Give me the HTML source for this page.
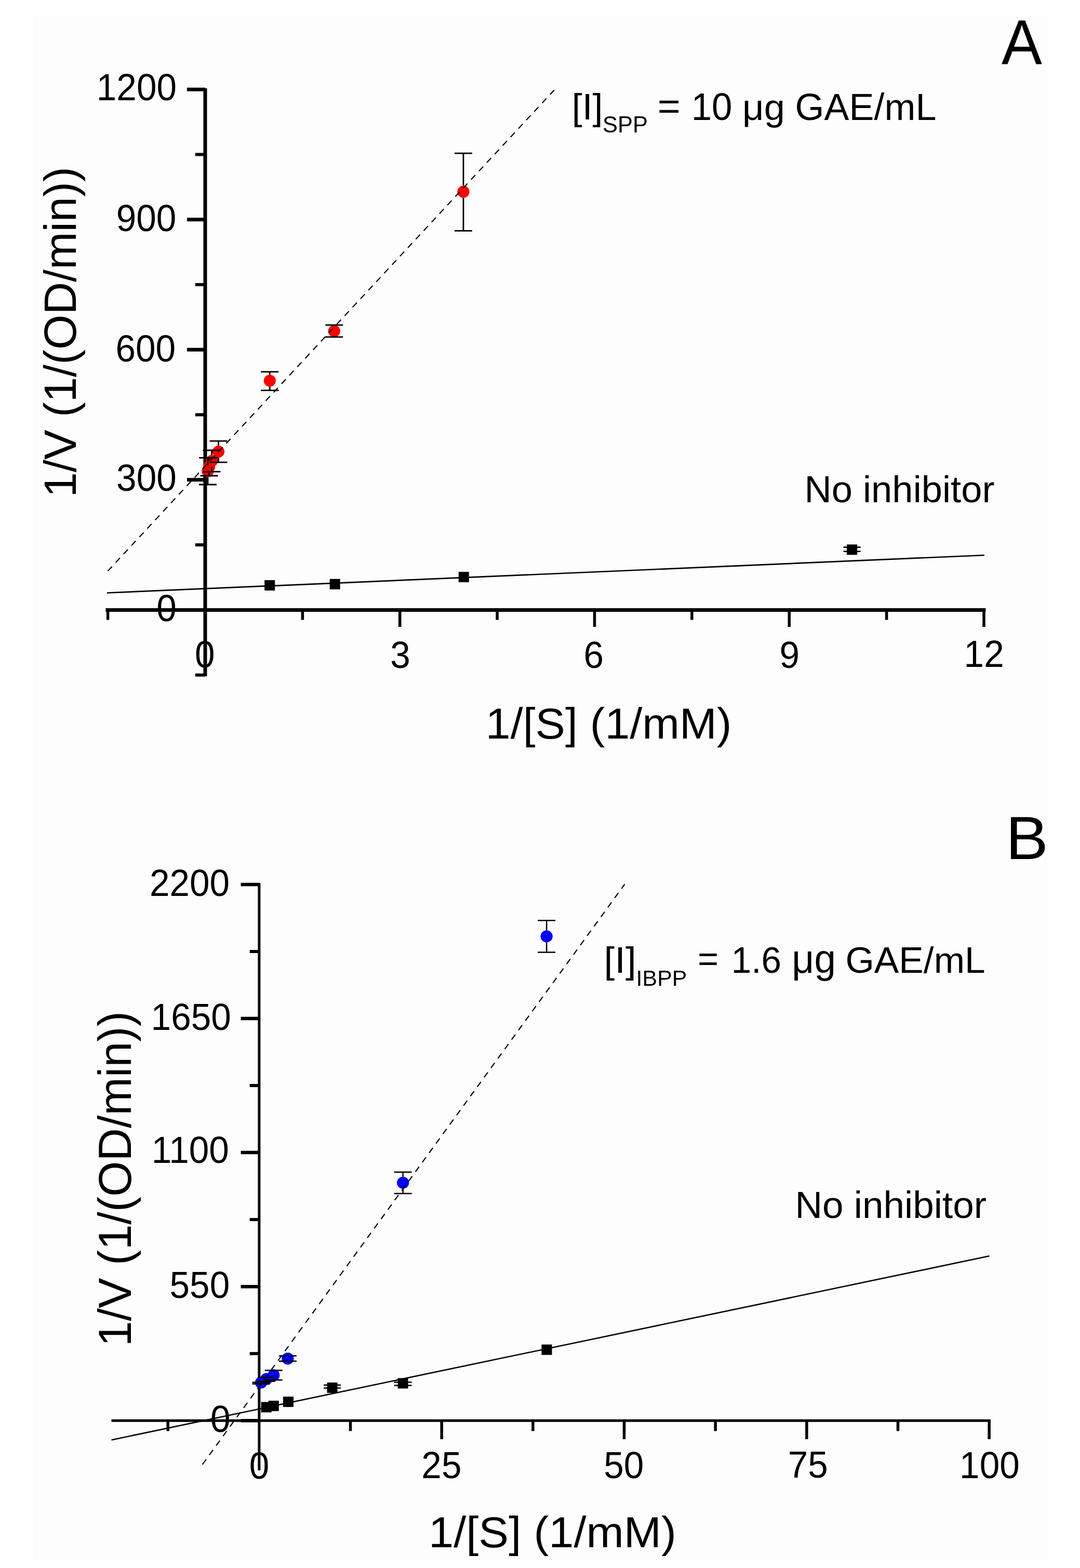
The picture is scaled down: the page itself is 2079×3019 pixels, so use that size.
<!DOCTYPE html>
<html><head><meta charset="utf-8"><title>Lineweaver-Burk plots (A: SPP, B: IBPP)</title>
<style>
html,body{margin:0;padding:0;background:#fff;}
body{width:2079px;height:3019px;overflow:hidden;position:relative;}
.bg{position:absolute;left:67px;top:29px;width:1949px;height:2975px;background:#fefdfd;}
svg{position:absolute;left:0;top:0;}
text{font-family:'Liberation Sans', Arial, Helvetica, sans-serif;fill:#000;}
</style></head>
<body>
<div class="bg"></div>
<svg width="2079" height="3019" viewBox="0 0 2079 3019">
<g stroke="#000" fill="none">
<line x1="395" y1="170" x2="395" y2="1302" stroke-width="7"/>
<line x1="203.5" y1="1174.4" x2="1897.5" y2="1174.4" stroke-width="7"/>
<line x1="360" y1="1174.4" x2="395" y2="1174.4" stroke-width="7"/>
<line x1="360" y1="923.84" x2="395" y2="923.84" stroke-width="7"/>
<line x1="360" y1="673.28" x2="395" y2="673.28" stroke-width="7"/>
<line x1="360" y1="422.72" x2="395" y2="422.72" stroke-width="7"/>
<line x1="360" y1="172.16" x2="395" y2="172.16" stroke-width="7"/>
<line x1="376" y1="1299.68" x2="395" y2="1299.68" stroke-width="6"/>
<line x1="376" y1="1049.12" x2="395" y2="1049.12" stroke-width="6"/>
<line x1="376" y1="798.56" x2="395" y2="798.56" stroke-width="6"/>
<line x1="376" y1="548" x2="395" y2="548" stroke-width="6"/>
<line x1="376" y1="297.44" x2="395" y2="297.44" stroke-width="6"/>
<line x1="769.76" y1="1174.4" x2="769.76" y2="1207" stroke-width="5.5"/>
<line x1="1144.52" y1="1174.4" x2="1144.52" y2="1207" stroke-width="5.5"/>
<line x1="1519.28" y1="1174.4" x2="1519.28" y2="1207" stroke-width="5.5"/>
<line x1="1894.04" y1="1174.4" x2="1894.04" y2="1207" stroke-width="5.5"/>
<line x1="207.62" y1="1174.4" x2="207.62" y2="1193.5" stroke-width="5.5"/>
<line x1="582.38" y1="1174.4" x2="582.38" y2="1193.5" stroke-width="5.5"/>
<line x1="957.14" y1="1174.4" x2="957.14" y2="1193.5" stroke-width="5.5"/>
<line x1="1331.9" y1="1174.4" x2="1331.9" y2="1193.5" stroke-width="5.5"/>
<line x1="1706.66" y1="1174.4" x2="1706.66" y2="1193.5" stroke-width="5.5"/>
<line x1="206" y1="1141.5" x2="1895" y2="1069" stroke-width="2.7"/>
</g>
<circle cx="519.3" cy="733" r="11.6" fill="#ff0000"/>
<circle cx="643.3" cy="637.5" r="11.6" fill="#ff0000"/>
<circle cx="892" cy="369.2" r="11.6" fill="#ff0000"/>
<circle cx="420.5" cy="869.6" r="11.6" fill="#ff0000"/>
<circle cx="407.6" cy="887.5" r="11.6" fill="#ff0000"/>
<circle cx="402.6" cy="898.6" r="11.6" fill="#ff0000"/>
<circle cx="400" cy="907.2" r="11.6" fill="#ff0000"/>
<g fill="#000">
<rect x="509.2" y="1117" width="20" height="20"/>
<rect x="634.7" y="1114.7" width="20" height="20"/>
<rect x="882.8" y="1101" width="20" height="20"/>
<rect x="1630.2" y="1048.3" width="20" height="20"/>
</g>
<g stroke="#000" fill="none">
<path d="M519.3 715.8V721.4M519.3 744.6V751.6M502.3 715.8H536.3M502.3 751.6H536.3" stroke-width="2.8"/>
<path d="M626.3 625.8H660.3M626.3 648.9H660.3" stroke-width="2.8"/>
<path d="M892 295.2V357.6M892 380.8V444.3M875 295.2H909M875 444.3H909" stroke-width="2.8"/>
<path d="M420.5 849.1V858M420.5 881.2V890.2M403.5 849.1H437.5M403.5 890.2H437.5" stroke-width="2.8"/>
<path d="M407.6 867V875.9M407.6 899.1V908.2M390.6 867H424.6M390.6 908.2H424.6" stroke-width="2.8"/>
<path d="M402.6 881.3V887M402.6 910.2V916M385.6 881.3H419.6M385.6 916H419.6" stroke-width="2.8"/>
<path d="M400 881.3V895.6M400 918.8V933M383 881.3H417M383 933H417" stroke-width="2.8"/>
<path d="M1623.7 1053.7H1656.7M1623.7 1061.6H1656.7" stroke-width="2.8"/>
<line x1="206.3" y1="1100.8" x2="1067.3" y2="172.9" stroke-width="2.2" stroke-dasharray="12 10.35" stroke-dashoffset="-1.8"/>
</g>
<text transform="translate(185.81 192.76) scale(0.9700 1)" font-size="71.50">1200</text>
<text transform="translate(223.67 444.97) scale(0.9700 1)" font-size="71.50">900</text>
<text transform="translate(222.48 695.91) scale(0.9700 1)" font-size="71.50">600</text>
<text transform="translate(224.12 944.52) scale(0.9700 1)" font-size="71.50">300</text>
<text transform="translate(301.22 1196.15) scale(0.9700 1)" font-size="71.50">0</text>
<text transform="translate(375.00 1284.98) scale(0.9700 1)" font-size="71.50">0</text>
<text transform="translate(751.17 1285.50) scale(0.9700 1)" font-size="71.50">3</text>
<text transform="translate(1123.60 1285.70) scale(0.9700 1)" font-size="71.50">6</text>
<text transform="translate(1500.44 1285.60) scale(0.9700 1)" font-size="71.50">9</text>
<text transform="translate(1855.57 1283.87) scale(0.9700 1)" font-size="71.50">12</text>
<text transform="translate(145.91 957.57) rotate(-90) scale(1.0038 1)" font-size="86.45">1/V (1/(OD/min))</text>
<text transform="translate(934.85 1422.09) scale(1.0353 1)" font-size="83.17">1/[S] (1/mM)</text>
<text transform="translate(1100.65 230.14) scale(1.0314 1)" font-size="69.73">[I]</text>
<text transform="translate(1159.95 255.47) scale(0.9913 1)" font-size="43.85">SPP</text>
<text transform="translate(1265.78 228.68) scale(1.0313 1)" font-size="73.10">=</text>
<text transform="translate(1330.67 231.24) scale(0.9466 1)" font-size="74.85">10</text>
<text transform="translate(1429.10 230.57) scale(1.0285 1)" font-size="70.18">μg</text>
<text transform="translate(1530.43 230.76) scale(0.9855 1)" font-size="73.05">GAE/mL</text>
<text transform="translate(1548.39 967.17) scale(0.9960 1)" font-size="72.69">No inhibitor</text>
<text transform="translate(1928.02 124.29) scale(0.9546 1)" font-size="122.42">A</text>
<g stroke="#000" fill="none">
<line x1="498.9" y1="1700" x2="498.9" y2="2831" stroke-width="5"/>
<line x1="214.5" y1="2735.2" x2="1907" y2="2735.2" stroke-width="5"/>
<line x1="463.6" y1="2735.2" x2="498.9" y2="2735.2" stroke-width="6.5"/>
<line x1="463.6" y1="2477.15" x2="498.9" y2="2477.15" stroke-width="6.5"/>
<line x1="463.6" y1="2219.1" x2="498.9" y2="2219.1" stroke-width="6.5"/>
<line x1="463.6" y1="1961.05" x2="498.9" y2="1961.05" stroke-width="6.5"/>
<line x1="463.6" y1="1703" x2="498.9" y2="1703" stroke-width="6.5"/>
<line x1="480.7" y1="2606.18" x2="498.9" y2="2606.18" stroke-width="6"/>
<line x1="480.7" y1="2348.13" x2="498.9" y2="2348.13" stroke-width="6"/>
<line x1="480.7" y1="2090.08" x2="498.9" y2="2090.08" stroke-width="6"/>
<line x1="480.7" y1="1832.03" x2="498.9" y2="1832.03" stroke-width="6"/>
<line x1="850.23" y1="2735.2" x2="850.23" y2="2771" stroke-width="5.5"/>
<line x1="1201.55" y1="2735.2" x2="1201.55" y2="2771" stroke-width="5.5"/>
<line x1="1552.88" y1="2735.2" x2="1552.88" y2="2771" stroke-width="5.5"/>
<line x1="1904.2" y1="2735.2" x2="1904.2" y2="2771" stroke-width="5.5"/>
<line x1="323.24" y1="2735.2" x2="323.24" y2="2755.3" stroke-width="5.5"/>
<line x1="674.56" y1="2735.2" x2="674.56" y2="2755.3" stroke-width="5.5"/>
<line x1="1025.89" y1="2735.2" x2="1025.89" y2="2755.3" stroke-width="5.5"/>
<line x1="1377.21" y1="2735.2" x2="1377.21" y2="2755.3" stroke-width="5.5"/>
<line x1="1728.54" y1="2735.2" x2="1728.54" y2="2755.3" stroke-width="5.5"/>
<line x1="214.5" y1="2772.4" x2="1904.5" y2="2418.3" stroke-width="2.6"/>
</g>
<circle cx="502.6" cy="2662" r="11.6" fill="#0000ff"/>
<circle cx="513" cy="2655" r="11.6" fill="#0000ff"/>
<circle cx="526.8" cy="2647.8" r="11.6" fill="#0000ff"/>
<circle cx="553.9" cy="2615.8" r="11.6" fill="#0000ff"/>
<circle cx="775.7" cy="2277.3" r="11.6" fill="#0000ff"/>
<circle cx="1052.2" cy="1802.9" r="11.6" fill="#0000ff"/>
<g fill="#000">
<rect x="502.7" y="2699.4" width="20" height="20"/>
<rect x="516.8" y="2696.9" width="20" height="20"/>
<rect x="545" y="2689" width="20" height="20"/>
<rect x="629.6" y="2661.9" width="20" height="20"/>
<rect x="765.6" y="2653.4" width="20" height="20"/>
<rect x="1042.5" y="2588.7" width="20" height="20"/>
</g>
<g stroke="#000" fill="none">
<path d="M485.6 2661.5H519.6M485.6 2664.5H519.6" stroke-width="2.5"/>
<path d="M496 2652H530M496 2659.6H530" stroke-width="2.5"/>
<path d="M509.8 2638.6H543.8M509.8 2657H543.8" stroke-width="2.5"/>
<path d="M536.9 2610.4H570.9M536.9 2620.8H570.9" stroke-width="2.5"/>
<path d="M775.7 2256.8V2265.7M775.7 2288.9V2298M758.7 2256.8H792.7M758.7 2298H792.7" stroke-width="2.5"/>
<path d="M1052.2 1772.2V1791.3M1052.2 1814.5V1833.6M1035.2 1772.2H1069.2M1035.2 1833.6H1069.2" stroke-width="2.5"/>
<path d="M623.1 2666.8H656.1M623.1 2672.5H656.1" stroke-width="2.5"/>
<path d="M758.6 2661.3H792.6M758.6 2667.5H792.6" stroke-width="2.5"/>
<line x1="386" y1="2824.7" x2="1202.6" y2="1702.4" stroke-width="2.2" stroke-dasharray="12 10.48" stroke-dashoffset="-6.3"/>
</g>
<text transform="translate(287.92 1724.73) scale(0.9700 1)" font-size="71.50">2200</text>
<text transform="translate(290.59 1983.49) scale(0.9700 1)" font-size="71.50">1650</text>
<text transform="translate(291.82 2239.42) scale(0.9700 1)" font-size="71.50">1100</text>
<text transform="translate(326.54 2499.39) scale(0.9700 1)" font-size="71.50">550</text>
<text transform="translate(404.98 2757.40) scale(0.9700 1)" font-size="71.50">0</text>
<text transform="translate(479.70 2846.69) scale(0.9700 1)" font-size="71.50">0</text>
<text transform="translate(811.36 2846.45) scale(0.9700 1)" font-size="71.50">25</text>
<text transform="translate(1162.22 2845.85) scale(0.9700 1)" font-size="71.50">50</text>
<text transform="translate(1516.67 2845.24) scale(0.9700 1)" font-size="71.50">75</text>
<text transform="translate(1847.07 2845.83) scale(0.9700 1)" font-size="71.50">100</text>
<text transform="translate(252.08 2592.47) rotate(-90) scale(0.9966 1)" font-size="88.33">1/V (1/(OD/min))</text>
<text transform="translate(824.97 2979.24) scale(1.0463 1)" font-size="82.88">1/[S] (1/mM)</text>
<text transform="translate(1162.50 1873.49) scale(1.0730 1)" font-size="69.73">[I]</text>
<text transform="translate(1224.61 1898.00) scale(1.0117 1)" font-size="42.46">IBPP</text>
<text transform="translate(1343.01 1870.42) scale(0.9953 1)" font-size="69.11">=</text>
<text transform="translate(1407.76 1872.70) scale(0.9730 1)" font-size="71.30">1.6</text>
<text transform="translate(1524.36 1872.55) scale(0.9661 1)" font-size="77.31">μg</text>
<text transform="translate(1627.44 1873.40)" font-size="71.22">GAE/mL</text>
<text transform="translate(1530.41 2344.52) scale(1.0098 1)" font-size="72.19">No inhibitor</text>
<text transform="translate(1935.92 1653.61) scale(1.0425 1)" font-size="117.78">B</text>
</svg>
</body></html>
